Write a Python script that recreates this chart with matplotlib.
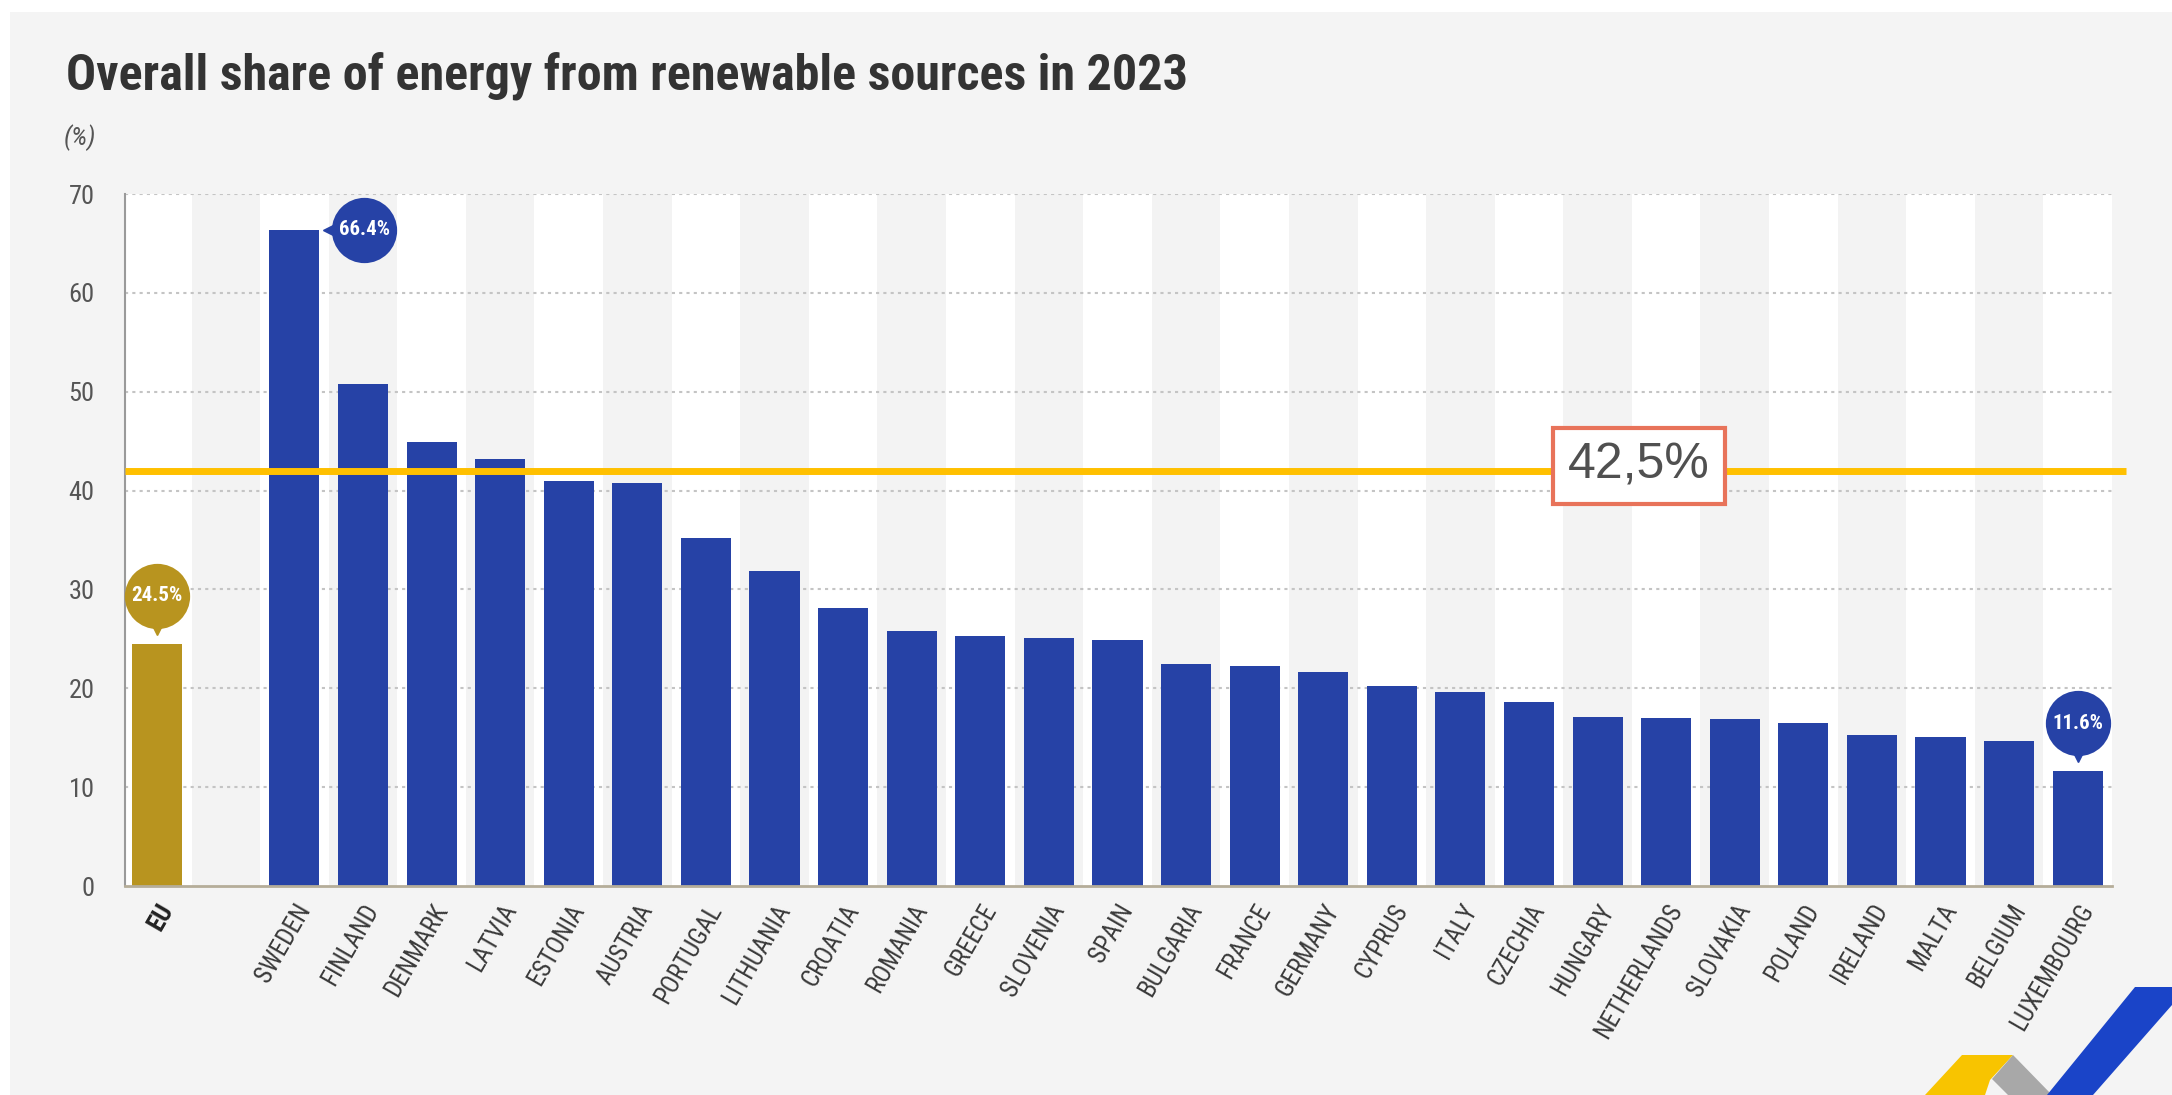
import numpy as np
import matplotlib
matplotlib.use("Agg")
import matplotlib.pyplot as plt
from matplotlib import font_manager as fm
from matplotlib.transforms import offset_copy, blended_transform_factory
from matplotlib.patches import Polygon, Rectangle

# ---------------- data ----------------
eu_label = "EU"
eu_value = 24.5
countries = ["SWEDEN", "FINLAND", "DENMARK", "LATVIA", "ESTONIA", "AUSTRIA", "PORTUGAL",
             "LITHUANIA", "CROATIA", "ROMANIA", "GREECE", "SLOVENIA", "SPAIN", "BULGARIA",
             "FRANCE", "GERMANY", "CYPRUS", "ITALY", "CZECHIA", "HUNGARY", "NETHERLANDS",
             "SLOVAKIA", "POLAND", "IRELAND", "MALTA", "BELGIUM", "LUXEMBOURG"]
values = [66.4, 50.8, 44.9, 43.2, 41.0, 40.8, 35.2, 31.9, 28.1, 25.8, 25.3, 25.1, 24.9,
          22.5, 22.3, 21.6, 20.2, 19.6, 18.6, 17.1, 17.0, 16.9, 16.5, 15.3, 15.1, 14.7, 11.6]
target_value = 42.0
target_label = "42,5%"
y_ticks = [0, 10, 20, 30, 40, 50, 60, 70]
title = "Overall share of energy from renewable sources in 2023"
unit_label = "(%)"

# ---------------- fonts ----------------
names = {f.name for f in fm.fontManager.ttflist}
cond_family = None
cond_stretch = "normal"
for cand in ["Roboto Condensed", "Liberation Sans Narrow", "Open Sans Condensed"]:
    if cand in names:
        cond_family = cand
        break
if cond_family is None:
    cond_family = "DejaVu Sans"
    cond_stretch = "condensed"
arial = "Liberation Sans" if "Liberation Sans" in names else "DejaVu Sans"

CF = dict(family=cond_family, stretch=cond_stretch)

# ---------------- colours ----------------
BG = "#f4f4f4"
STRIPE = "#f3f3f3"
BLUE = "#2642a6"
GOLD = "#b8941f"
ORANGE = "#ffc000"

W, H = 2172, 1095
fig = plt.figure(figsize=(W / 100, H / 100), dpi=100)
fig.patch.set_facecolor("white")
fig.patches.append(Rectangle((10 / W, 0), 1, 1 - 12 / H, transform=fig.transFigure,
                             facecolor=BG, edgecolor="none", zorder=-10))

ax = fig.add_axes([125 / W, 1 - 886 / H, (2112 - 125) / W, (886 - 194) / H])
ax.set_facecolor("white")

n = len(countries)
x_eu = 0
x_c = np.arange(n) + 2

ax.set_xlim(-0.47, x_c[-1] + 0.5)
ax.set_ylim(0, 70)

# alternating column stripes
for i in range(int(x_c[-1]) + 1):
    if i % 2 == 1:
        ax.axvspan(i - 0.5, i + 0.5, color=STRIPE, zorder=0, lw=0)

# grid
for t in y_ticks[1:]:
    ax.axhline(t, color="#c4c4c4", lw=1.5, ls=(0, (1.5, 2)), zorder=1)

bw = 0.73
ax.bar([x_eu], [eu_value], width=bw, color=GOLD, zorder=3)
ax.bar(x_c, values, width=bw, color=BLUE, zorder=3)

for s in ["top", "right"]:
    ax.spines[s].set_visible(False)
ax.spines["left"].set_color("#9a9a9a")
ax.spines["left"].set_linewidth(1.5)
ax.spines["bottom"].set_color("#b5ad99")
ax.spines["bottom"].set_linewidth(2)
ax.spines["left"].set_zorder(4)
ax.spines["bottom"].set_zorder(4)

ax.set_yticks(y_ticks)
ax.set_yticklabels([str(t) for t in y_ticks], fontsize=19, color="#555555", **CF)
ax.tick_params(axis="y", length=0, pad=22)
ax.set_xticks(np.concatenate([[x_eu], x_c]))
ax.set_xticklabels([eu_label] + countries)
ax.tick_params(axis="x", length=0, pad=10)
for i, lab in enumerate(ax.get_xticklabels()):
    lab.set_rotation(60)
    lab.set_ha("right")
    lab.set_va("top")
    lab.set_rotation_mode("anchor")
    lab.set_fontsize(18)
    lab.set_color("#3a3a3a")
    lab.set_family(cond_family)
    lab.set_stretch(cond_stretch)
    if i == 0:
        lab.set_fontweight("bold")
        lab.set_color("#222222")

# ---------------- pins ----------------
def pin_above(x, y, text, color):
    tr_c = offset_copy(ax.transData, fig=fig, x=0, y=48, units="dots")
    tr_p = offset_copy(ax.transData, fig=fig, x=0, y=20, units="dots")
    ax.plot([x], [y], marker="v", ms=16, color=color, transform=tr_p, zorder=6, clip_on=False)
    ax.plot([x], [y], marker="o", ms=47, color=color, transform=tr_c, zorder=6, clip_on=False,
            markeredgewidth=0)
    ax.text(x, y, text, transform=tr_c, ha="center", va="center", color="white",
            fontsize=15, fontweight="bold", zorder=7, **CF)

def pin_right(x, y, text, color):
    tr_c = offset_copy(ax.transData, fig=fig, x=70, y=0, units="dots")
    tr_p = offset_copy(ax.transData, fig=fig, x=40, y=0, units="dots")
    ax.plot([x], [y], marker="<", ms=16, color=color, transform=tr_p, zorder=6, clip_on=False)
    ax.plot([x], [y], marker="o", ms=47, color=color, transform=tr_c, zorder=6, clip_on=False,
            markeredgewidth=0)
    ax.text(x, y, text, transform=tr_c, ha="center", va="center", color="white",
            fontsize=15, fontweight="bold", zorder=7, **CF)

pin_above(x_eu, eu_value, f"{eu_value}%", GOLD)
pin_right(x_c[0], values[0], f"{values[0]}%", BLUE)
pin_above(x_c[-1], values[-1], f"{values[-1]}%", BLUE)

# ---------------- target line ----------------
btr = blended_transform_factory(ax.transAxes, ax.transData)
ax.plot([0.0, 1.007], [target_value, target_value], color=ORANGE, lw=5, transform=btr,
        zorder=8, clip_on=False, solid_capstyle="butt")
ax.text(21.6, target_value + 0.5, target_label, ha="center", va="center", fontsize=36,
        color="#505050", family=arial, zorder=9,
        bbox=dict(boxstyle="square,pad=0.3", facecolor="white", edgecolor="#e8735a", lw=3))

# ---------------- titles ----------------
fig.text(66 / W, 1 - 76 / H, title, ha="left", va="center", fontsize=36, fontweight="bold",
         color="#333333", **CF)
fig.text(64 / W, 1 - 138 / H, unit_label, ha="left", va="center", fontsize=19, style="italic",
         color="#555555", **CF)

# ---------------- logo (bottom right) ----------------
def figpoly(pts, color):
    fig.patches.append(Polygon([(px / W, 1 - py / H) for px, py in pts], closed=True,
                               transform=fig.transFigure, facecolor=color, edgecolor="none",
                               zorder=5))

figpoly([(1925, 1095), (1962, 1055), (2013, 1055), (1990, 1080), (1985, 1095)], "#f8c400")
figpoly([(2013, 1055), (2052, 1095), (2008, 1095), (1992, 1079)], "#a8a8a8")
figpoly([(2047, 1095), (2135, 987), (2172, 987), (2172, 1005), (2093, 1095)], "#1a44c8")

fig.savefig("out.png", dpi=100, facecolor=fig.get_facecolor())
